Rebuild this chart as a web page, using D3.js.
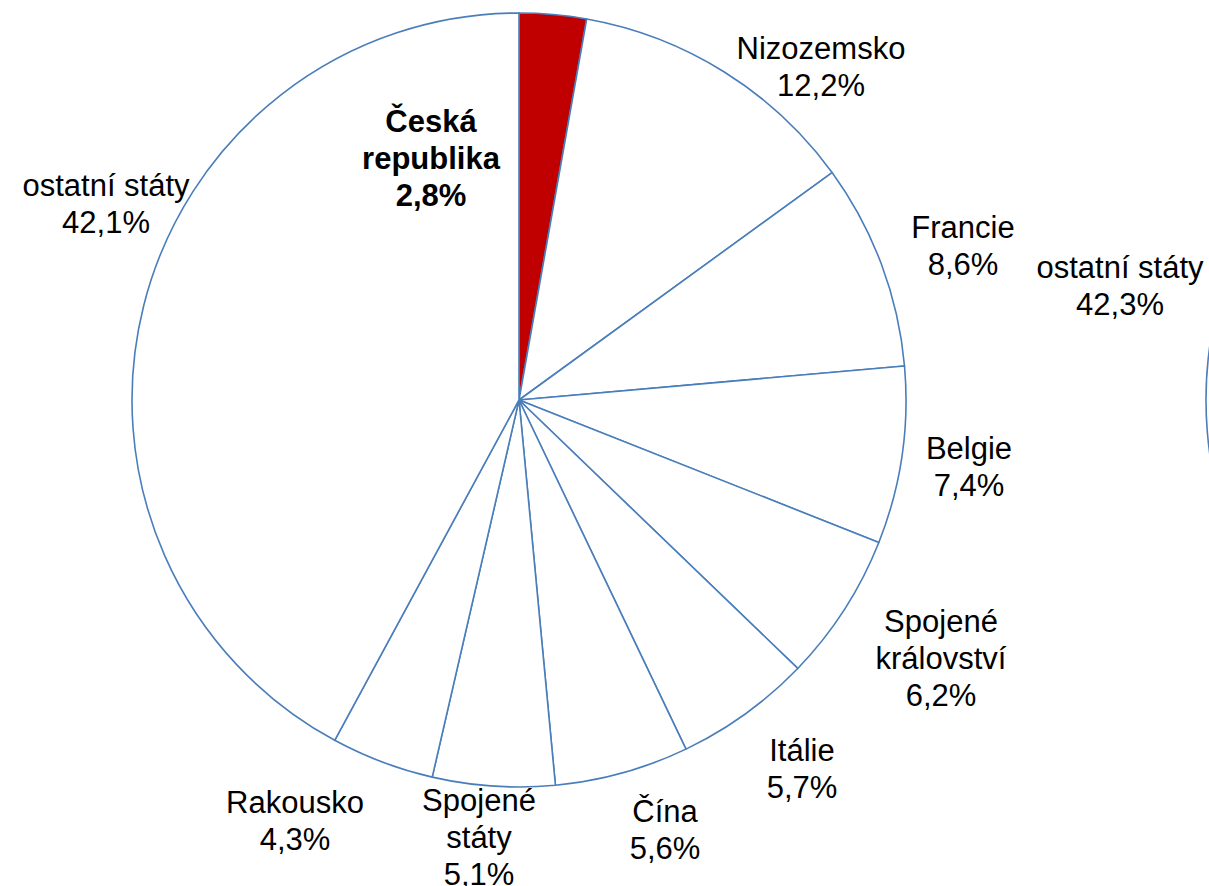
<!DOCTYPE html>
<html>
<head>
<meta charset="utf-8">
<script src="https://cdn.jsdelivr.net/npm/d3@7"></script>
<style>
  body { margin: 0; background: #fff; }
  text { font-family: "Liberation Sans", Arial, sans-serif; }
</style>
</head>
<body>
<script>
// share of each country, clockwise from the top
let countries = ["Česká republika", "Nizozemsko", "Francie", "Belgie", "Spojené království",
                 "Itálie", "Čína", "Spojené státy", "Rakousko", "ostatní státy"];
let shares = [2.8, 12.2, 8.6, 7.4, 6.2, 5.7, 5.6, 5.1, 4.3, 42.1];
let labelLines = [["Česká", "republika", "2,8%"], ["Nizozemsko", "12,2%"], ["Francie", "8,6%"],
                  ["Belgie", "7,4%"], ["Spojené", "království", "6,2%"], ["Itálie", "5,7%"],
                  ["Čína", "5,6%"], ["Spojené", "státy", "5,1%"], ["Rakousko", "4,3%"],
                  ["ostatní státy", "42,1%"]];

// second (cut off) pie, only its "ostatní státy" slice is in view
let otherShare2 = 42.3;
let otherLabel2 = ["ostatní státy", "42,3%"];

// label centres, offset from the pie centre
let labelOffsets = [[-88, -242], [302, -334], [444, -155], [450, 66], [422, 258],
                    [283, 368], [146, 429], [-40, 437], [-224, 420], [-413, -197]];

const W = 1209, H = 886;
const cx = 519, cy = 400, R = 387;
const lineH = 37;
const fs = 31;

let svg = d3.select("body").append("svg")
    .attr("width", W)
    .attr("height", H);

let data = countries.map((c, i) => ({ name: c, value: shares[i], lines: labelLines[i], off: labelOffsets[i] }));

let pie = d3.pie().sort(null).value(d => d.value);
let arc = d3.arc().innerRadius(0).outerRadius(R);

let g = svg.append("g").attr("transform", `translate(${cx},${cy})`);

g.selectAll("path")
    .data(pie(data))
    .enter()
    .append("path")
    .attr("d", arc)
    .attr("fill", (d, i) => i == 0 ? "#c00000" : "#ffffff")
    .attr("stroke", "#4a7ebb")
    .attr("stroke-width", 1.6)
    .attr("stroke-linejoin", "round");

let labels = g.selectAll("text.lbl")
    .data(data)
    .enter()
    .append("text")
    .attr("class", "lbl")
    .attr("text-anchor", "middle")
    .attr("font-size", fs)
    .attr("font-weight", (d, i) => i == 0 ? "bold" : "normal")
    .attr("fill", "#000");

labels.selectAll("tspan")
    .data(d => d.lines.map((t, j) => ({ t: t, j: j, n: d.lines.length, off: d.off })))
    .enter()
    .append("tspan")
    .attr("x", d => d.off[0])
    .attr("y", d => d.off[1] + (d.j - (d.n - 1) / 2) * lineH + 11)
    .text(d => d.t);

// second pie, mostly outside the window
const cx2 = 1593;
let pie2 = d3.pie().sort(null).value(d => d)([100 - otherShare2, otherShare2]);
let g2 = svg.append("g").attr("transform", `translate(${cx2},${cy})`);
g2.append("path")
    .attr("d", arc(pie2[1]))
    .attr("fill", "#ffffff")
    .attr("stroke", "#4a7ebb")
    .attr("stroke-width", 1.6);

let t2 = g2.append("text")
    .attr("text-anchor", "middle")
    .attr("font-size", fs)
    .attr("fill", "#000");
t2.selectAll("tspan")
    .data(otherLabel2)
    .enter()
    .append("tspan")
    .attr("x", -473)
    .attr("y", (d, j) => -115 + (j - 0.5) * lineH + 11)
    .text(d => d);
</script>
</body>
</html>
